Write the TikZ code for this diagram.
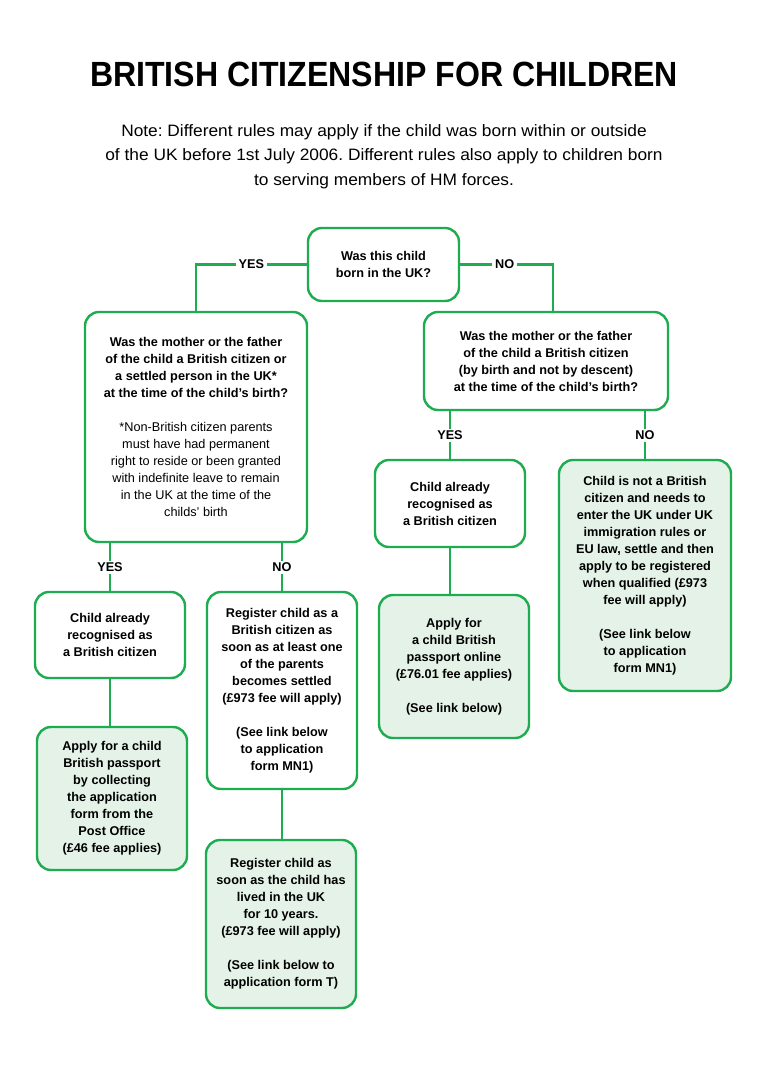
\documentclass[tikz,border=0pt]{standalone}
\usepackage{fontspec}
\setmainfont{Liberation Sans}
\definecolor{gline}{RGB}{30,172,80}
\definecolor{gfill}{RGB}{228,242,231}
\begin{document}
\frenchspacing
\begin{tikzpicture}[x=1pt,y=-1pt,
  box/.style={draw=gline, line width=2.4pt, rounded corners=14pt, align=center,
    inner sep=0pt, font=\fontsize{12.7}{17}\selectfont\bfseries, fill=white},
  gbox/.style={box, fill=gfill},
  conn/.style={draw=gline, line width=2.4pt},
  lab/.style={fill=white, inner xsep=3pt, inner ysep=2pt, font=\fontsize{12.7}{15}\selectfont\bfseries}]
\useasboundingbox (0,0) rectangle (768,1068);
\fill[white] (0,0) rectangle (768,1068);

\node[xscale=0.916] (title) at (384,74) {\fontsize{35}{40}\selectfont\bfseries BRITISH CITIZENSHIP FOR CHILDREN};
\node[align=center, xscale=1.05, font=\fontsize{16.5}{24.5}\selectfont] (note) at (384,156.5)
  {Note: Different rules may apply if the child was born within or outside\\
   of the UK before 1st July 2006. Different rules also apply to children born\\
   to serving members of HM forces.};

\node[box, minimum width=151pt, minimum height=73pt] (q1) at (383.5,264.5)
  {Was this child\\born in the UK?};
\node[box, minimum width=222pt, minimum height=230pt] (q2) at (196,427)
  {Was the mother or the father\\of the child a British citizen or\\a settled person in the UK*\\at the time of the child’s birth?\\[17pt]
   {\mdseries *Non-British citizen parents}\\{\mdseries must have had permanent}\\{\mdseries right to reside or been granted}\\{\mdseries with indefinite leave to remain}\\{\mdseries in the UK at the time of the}\\{\mdseries childs’ birth}};
\node[box, minimum width=244pt, minimum height=98pt] (q3) at (546,361)
  {Was the mother or the father\\of the child a British citizen\\(by birth and not by descent)\\at the time of the child’s birth?};

\node[box, minimum width=150pt, minimum height=86pt] (a1) at (110,635)
  {Child already\\recognised as\\a British citizen};
\node[box, minimum width=150pt, minimum height=197pt] (a2) at (282,690.5)
  {Register child as a\\British citizen as\\soon as at least one\\of the parents\\becomes settled\\(£973 fee will apply)\\[17pt](See link below\\to application\\form MN1)};
\node[gbox, minimum width=150pt, minimum height=143pt] (a3) at (112,798.5)
  {Apply for a child\\British passport\\by collecting\\the application\\form from the\\Post Office\\(£46 fee applies)};
\node[gbox, minimum width=150pt, minimum height=168pt] (a4) at (281,924)
  {Register child as\\soon as the child has\\lived in the UK\\for 10 years.\\(£973 fee will apply)\\[17pt](See link below to\\application form T)};

\node[box, minimum width=150pt, minimum height=87pt] (b1) at (450,503.5)
  {Child already\\recognised as\\a British citizen};
\node[gbox, minimum width=150pt, minimum height=143pt] (b2) at (454,666.5)
  {Apply for\\a child British\\passport online\\(£76.01 fee applies)\\[17pt](See link below)};
\node[gbox, minimum width=172pt, minimum height=231pt] (b3) at (645,575.5)
  {Child is not a British\\citizen and needs to\\enter the UK under UK\\immigration rules or\\EU law, settle and then\\apply to be registered\\when qualified (£973\\fee will apply)\\[17pt](See link below\\to application\\form MN1)};

\path[conn] (q1.west) -| (q2.north) node[lab, pos=0.25] {YES};
\path[conn] (q1.east) -| ([xshift=7pt]q3.north) node[lab, pos=0.24] {NO};
\path[conn] (q2.south -| a1.north) -- (a1.north) node[lab, midway] {YES};
\path[conn] (q2.south -| a2.north) -- (a2.north) node[lab, midway] {NO};
\path[conn] (q3.south -| b1.north) -- (b1.north) node[lab, midway] {YES};
\path[conn] (q3.south -| b3.north) -- (b3.north) node[lab, midway] {NO};
\path[conn] (a1.south) -- (a1.south |- a3.north);
\path[conn] (a2.south) -- (a2.south |- a4.north);
\path[conn] (b1.south) -- (b1.south |- b2.north);
\end{tikzpicture}
\end{document}
